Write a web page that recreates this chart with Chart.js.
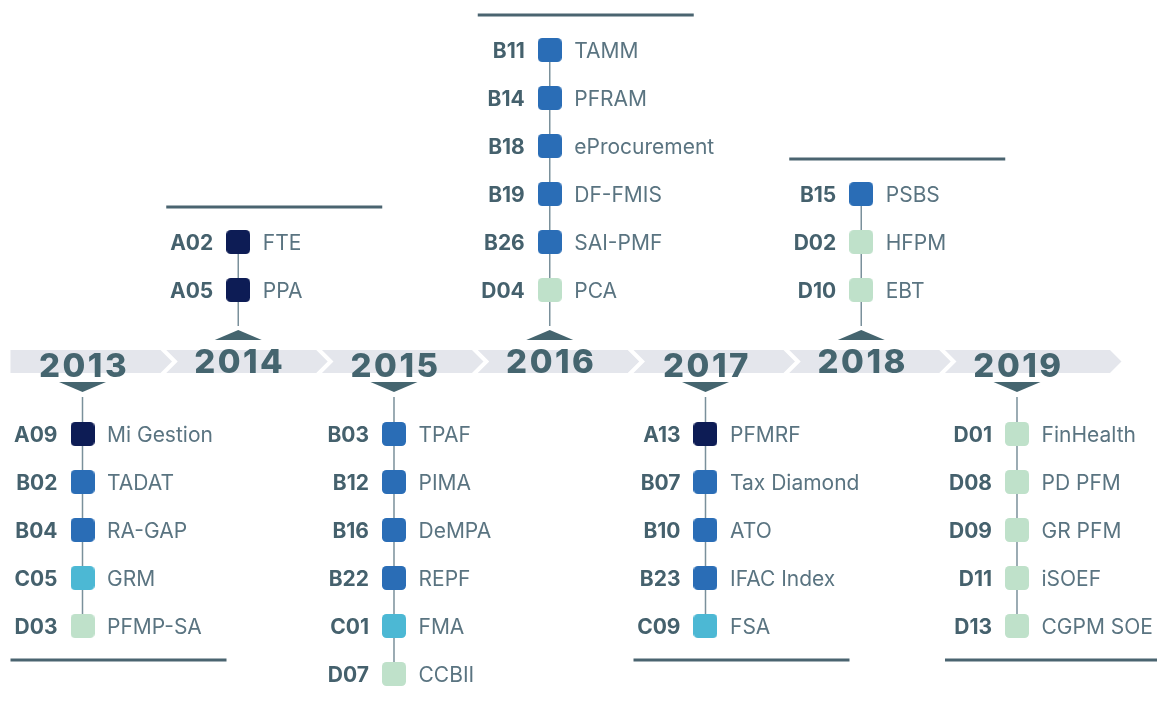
<!DOCTYPE html>
<html><head><meta charset="utf-8">
<script src="https://cdn.jsdelivr.net/npm/chart.js@4/dist/chart.umd.min.js"></script>
<style>html,body{margin:0;padding:0;background:#fff}#wrap{width:1157px;height:702px;position:relative}</style>
</head><body><div id="wrap"><canvas id="c" width="1157" height="702"></canvas></div>
<script>
// ---- data ----
const years = [2013, 2014, 2015, 2016, 2017, 2018, 2019];
const sides = ['below', 'above', 'below', 'above', 'below', 'above', 'below'];
// items listed top-to-bottom as they appear
const codes2013 = ['A09', 'B02', 'B04', 'C05', 'D03'];
const names2013 = ['Mi Gestion', 'TADAT', 'RA-GAP', 'GRM', 'PFMP-SA'];
const codes2014 = ['A02', 'A05'];
const names2014 = ['FTE', 'PPA'];
const codes2015 = ['B03', 'B12', 'B16', 'B22', 'C01', 'D07'];
const names2015 = ['TPAF', 'PIMA', 'DeMPA', 'REPF', 'FMA', 'CCBII'];
const codes2016 = ['B11', 'B14', 'B18', 'B19', 'B26', 'D04'];
const names2016 = ['TAMM', 'PFRAM', 'eProcurement', 'DF-FMIS', 'SAI-PMF', 'PCA'];
const codes2017 = ['A13', 'B07', 'B10', 'B23', 'C09'];
const names2017 = ['PFMRF', 'Tax Diamond', 'ATO', 'IFAC Index', 'FSA'];
const codes2018 = ['B15', 'D02', 'D10'];
const names2018 = ['PSBS', 'HFPM', 'EBT'];
const codes2019 = ['D01', 'D08', 'D09', 'D11', 'D13'];
const names2019 = ['FinHealth', 'PD PFM', 'GR PFM', 'iSOEF', 'CGPM SOE'];

const codeLists = [codes2013, codes2014, codes2015, codes2016, codes2017, codes2018, codes2019];
const nameLists = [names2013, names2014, names2015, names2016, names2017, names2018, names2019];

// ---- styles ----
const groupColors = { A: '#0d1c55', B: '#2a6db6', C: '#4cb8d4', D: '#bfe1ca' };
const yearColor = '#45656f';
const codeColor = '#45616d';
const nameColor = '#5a7481';
const ruleColor = '#4a6470';
const connColor = '#7a909b';
const bandColor = '#e4e6ec';
const YEAR_FONT = 'Inter, "DejaVu Sans", sans-serif';
const TEXT_FONT = 'Inter, "DejaVu Sans", sans-serif';

function makeMarker(color) {
  const c = document.createElement('canvas');
  c.width = 24; c.height = 24;
  const g = c.getContext('2d');
  g.fillStyle = color;
  g.beginPath();
  if (g.roundRect) g.roundRect(0, 0, 24, 24, 4.5); else g.rect(0, 0, 24, 24);
  g.fill();
  return c;
}
const markers = {};
Object.keys(groupColors).forEach(k => markers[k] = makeMarker(groupColors[k]));

const datasets = years.map((yr, i) => {
  const codes = codeLists[i], names = nameLists[i];
  const n = codes.length;
  const up = sides[i] === 'above';
  const data = codes.map((code, j) => {
    const row = up ? (n - j) : (j + 1);
    return { x: yr, y: (up ? 1 : -1) * (row + 0.5), code: code, name: names[j] };
  });
  return {
    label: String(yr),
    data: data,
    pointStyle: ctx => markers[ctx.raw ? ctx.raw.code[0] : 'B'],
    pointRadius: 12,
    showLine: false,
    clip: false
  };
});

const timelinePlugin = {
  id: 'timeline',
  beforeDatasetsDraw(chart) {
    const ctx = chart.ctx, xs = chart.scales.x, ys = chart.scales.y;
    const y0 = ys.getPixelForValue(0);
    const bTop = y0 - 12, bBot = y0 + 11, bMid = (bTop + bBot) / 2;
    ctx.save();
    // chevron band
    ctx.fillStyle = bandColor;
    years.forEach((yr, i) => {
      const c = xs.getPixelForValue(yr);
      const L = c - 72;
      const R = i === years.length - 1 ? c + 93 : c + 78;
      ctx.beginPath();
      ctx.moveTo(L, bTop);
      ctx.lineTo(R, bTop);
      ctx.lineTo(R + 11.5, bMid);
      ctx.lineTo(R, bBot);
      ctx.lineTo(L, bBot);
      if (i > 0) ctx.lineTo(L + 11.5, bMid);
      ctx.closePath();
      ctx.fill();
    });
    // connectors, triangles, rules
    years.forEach((yr, i) => {
      const c = xs.getPixelForValue(yr);
      const up = sides[i] === 'above';
      const meta = chart.getDatasetMeta(i);
      const pys = meta.data.map(p => p.y);
      const far = up ? Math.min(...pys) : Math.max(...pys);
      // connector
      ctx.strokeStyle = connColor;
      ctx.lineWidth = 1.5;
      ctx.beginPath();
      ctx.moveTo(c, far);
      ctx.lineTo(c, up ? y0 - 36 : y0 + 35);
      ctx.stroke();
      // triangle
      ctx.fillStyle = yearColor;
      ctx.beginPath();
      if (up) {
        ctx.moveTo(c - 23.5, y0 - 22);
        ctx.lineTo(c + 23.5, y0 - 22);
        ctx.lineTo(c, y0 - 32);
      } else {
        ctx.moveTo(c - 23.5, y0 + 20);
        ctx.lineTo(c + 23.5, y0 + 20);
        ctx.lineTo(c, y0 + 30);
      }
      ctx.closePath();
      ctx.fill();
      // rule
      ctx.strokeStyle = ruleColor;
      ctx.lineWidth = 3;
      const ry = up ? far - 35 : far + 34;
      ctx.beginPath();
      ctx.moveTo(c - 72, ry);
      ctx.lineTo(c + 144, ry);
      ctx.stroke();
    });
    ctx.restore();
  },
  afterDatasetsDraw(chart) {
    const ctx = chart.ctx, xs = chart.scales.x, ys = chart.scales.y;
    const y0 = ys.getPixelForValue(0);
    ctx.save();
    years.forEach((yr, i) => {
      const c = xs.getPixelForValue(yr);
      const up = sides[i] === 'above';
      ctx.fillStyle = yearColor;
      ctx.font = '800 33px ' + YEAR_FONT;
      ctx.textAlign = 'center';
      ctx.textBaseline = 'alphabetic';
      ctx.letterSpacing = '2.5px';
      ctx.fillText(String(yr), c + 1.5, up ? y0 + 11 : y0 + 15);
      ctx.letterSpacing = '0px';
      const meta = chart.getDatasetMeta(i);
      meta.data.forEach((p, j) => {
        const raw = chart.data.datasets[i].data[j];
        ctx.textBaseline = 'alphabetic';
        ctx.font = 'bold 21px ' + TEXT_FONT;
        ctx.fillStyle = codeColor;
        ctx.textAlign = 'right';
        ctx.fillText(raw.code, p.x - 25, p.y + 7.6);
        ctx.font = '21px ' + TEXT_FONT;
        ctx.fillStyle = nameColor;
        ctx.textAlign = 'left';
        ctx.fillText(raw.name, p.x + 24.5, p.y + 7.6);
      });
    });
    ctx.restore();
  }
};

new Chart(document.getElementById('c'), {
  type: 'scatter',
  data: { datasets: datasets },
  options: {
    responsive: false,
    animation: false,
    events: [],
    layout: { padding: 0, autoPadding: false },
    plugins: { legend: { display: false }, tooltip: { enabled: false } },
    scales: {
      x: { type: 'linear', display: false, min: 2012.4703, max: 2019.8989 },
      y: { type: 'linear', display: false, min: -7.0833, max: 7.5417 }
    }
  },
  plugins: [timelinePlugin]
});
</script>
</body></html>
